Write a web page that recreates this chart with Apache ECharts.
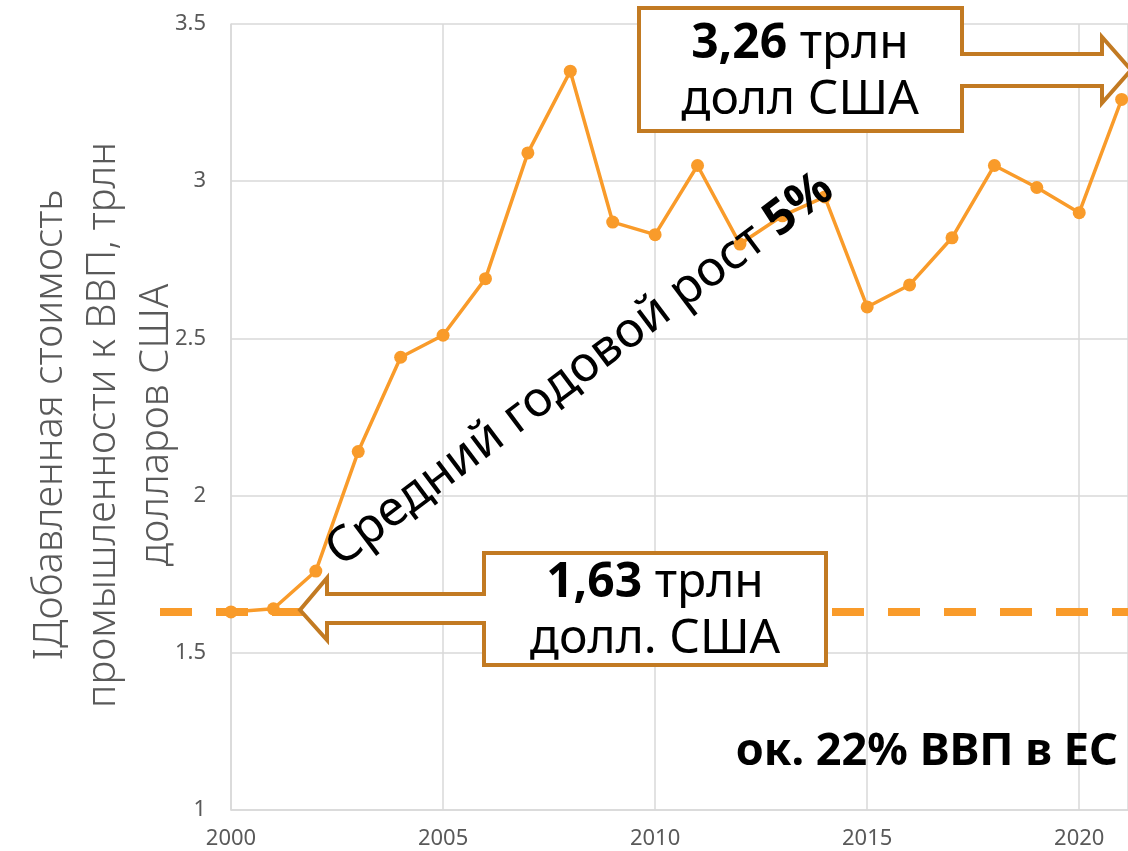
<!DOCTYPE html>
<html>
<head>
<meta charset="utf-8">
<script src="https://cdn.jsdelivr.net/npm/echarts@6/dist/echarts.min.js"></script>
<style>
  html, body { margin: 0; padding: 0; background: #fff; }
  #main { width: 1128px; height: 851px; }
</style>
</head>
<body>
<div id="main"></div>
<script>
// данные
var years = [2000, 2001, 2002, 2003, 2004, 2005, 2006, 2007, 2008, 2009, 2010,
             2011, 2012, 2013, 2014, 2015, 2016, 2017, 2018, 2019, 2020, 2021];
var values = [1.63, 1.64, 1.76, 2.14, 2.44, 2.51, 2.69, 3.09, 3.35, 2.87, 2.83,
              3.05, 2.80, 2.89, 2.95, 2.60, 2.67, 2.82, 3.05, 2.98, 2.90, 3.26];
var baseline = 1.63;          // уровень 2000 года
var yTicks = [1, 1.5, 2, 2.5, 3, 3.5];
var xTicks = [2000, 2005, 2010, 2015, 2020];

var orange = '#F99B2A';
var brown = '#C27A22';
var grey = '#595959';
var font = '"Noto Sans", "DejaVu Sans", sans-serif';

var seriesData = years.map(function (y, i) { return [y, values[i]]; });

var chart = echarts.init(document.getElementById('main'));

var option = {
  animation: false,
  grid: [
    { left: 231, top: 24, right: 0, height: 786 },
    { left: 160, right: 0, top: 24, height: 786 }   // для пунктира
  ],
  xAxis: [
    {
      type: 'value', gridIndex: 0,
      min: xTicks[0], max: 2021.15, interval: 5,
      axisLine: { lineStyle: { color: '#d9d9d9', width: 1.5 } },
      axisTick: { show: false },
      axisLabel: {
        color: grey, fontSize: 22, fontFamily: font, margin: 18, showMaxLabel: false,
        formatter: function (v) { return xTicks.indexOf(v) >= 0 ? String(v) : ''; }
      },
      splitLine: { show: true, lineStyle: { color: '#d9d9d9', width: 1.5 } }
    },
    { type: 'value', gridIndex: 1, min: 0, max: 1, show: false }
  ],
  yAxis: [
    {
      type: 'value', gridIndex: 0,
      min: yTicks[0], max: yTicks[yTicks.length - 1], interval: 0.5,
      axisLine: { show: true, lineStyle: { color: '#d9d9d9', width: 1.5 } },
      axisTick: { show: false },
      axisLabel: { color: grey, fontSize: 22, fontFamily: font, margin: 25 },
      splitLine: { show: true, lineStyle: { color: '#d9d9d9', width: 1.5 } }
    },
    { type: 'value', gridIndex: 1, min: yTicks[0], max: yTicks[yTicks.length - 1], show: false }
  ],
  series: [
    {
      type: 'line', xAxisIndex: 1, yAxisIndex: 1,
      data: [[0, baseline], [1, baseline]],
      symbol: 'none', silent: true,
      lineStyle: { color: orange, width: 8, type: [32, 24], cap: 'butt' }
    },
    {
      type: 'line', xAxisIndex: 0, yAxisIndex: 0,
      data: seriesData,
      symbol: 'circle', symbolSize: 13,
      itemStyle: { color: orange },
      lineStyle: { color: orange, width: 3.5 }
    }
  ],
  graphic: [
    // подпись оси Y
    {
      type: 'text', x: 104, y: 425, rotation: Math.PI / 2, z: 100,
      style: {
        text: 'IДобавленная стоимость\nпромышленности к ВВП, трлн\nдолларов США',
        fill: grey, fontSize: 40, fontWeight: 300, fontFamily: font,
        lineHeight: 53, textAlign: 'center', textVerticalAlign: 'middle'
      }
    },
    // стрелка вправо 3,26
    {
      type: 'polygon', z: 100,
      shape: { points: [[639, 8], [962, 8], [962, 54], [1102, 54], [1102, 37], [1131, 70],
                        [1102, 103], [1102, 86], [962, 86], [962, 131], [639, 131]] },
      style: { fill: '#fff', stroke: brown, lineWidth: 4, lineJoin: 'miter' }
    },
    {
      type: 'text', x: 800, y: 72, z: 101,
      style: {
        text: '{b|3,26} трлн\nдолл США',
        fill: '#000', fontSize: 48, fontFamily: font, lineHeight: 56,
        textAlign: 'center', textVerticalAlign: 'middle',
        rich: { b: { fontWeight: 'bold', fontSize: 48, fontFamily: font, lineHeight: 56, fill: '#000' } }
      }
    },
    // стрелка влево 1,63
    {
      type: 'polygon', z: 100,
      shape: { points: [[826, 553], [826, 665], [484, 665], [484, 623], [327, 623], [327, 640],
                        [300, 610], [327, 578], [327, 594], [484, 594], [484, 553]] },
      style: { fill: '#fff', stroke: brown, lineWidth: 4, lineJoin: 'miter' }
    },
    {
      type: 'text', x: 655, y: 611, z: 101,
      style: {
        text: '{b|1,63} трлн\nдолл. США',
        fill: '#000', fontSize: 48, fontFamily: font, lineHeight: 56,
        textAlign: 'center', textVerticalAlign: 'middle',
        rich: { b: { fontWeight: 'bold', fontSize: 48, fontFamily: font, lineHeight: 56, fill: '#000' } }
      }
    },
    // средний рост
    {
      type: 'text', x: 580, y: 370, rotation: 37 * Math.PI / 180, z: 101,
      style: {
        text: 'Средний годовой рост {b|5%}',
        fill: '#000', fontSize: 49, fontFamily: font,
        textAlign: 'center', textVerticalAlign: 'middle',
        rich: { b: { fontWeight: 'bold', fontSize: 49, fontFamily: font, fill: '#000' } }
      }
    },
    {
      type: 'text', x: 1118, y: 752, z: 101,
      style: {
        text: 'ок. 22% ВВП в ЕС',
        fill: '#000', fontSize: 45, fontWeight: 'bold', fontFamily: font,
        textAlign: 'right', textVerticalAlign: 'middle'
      }
    }
  ]
};

chart.setOption(option);
</script>
</body>
</html>
